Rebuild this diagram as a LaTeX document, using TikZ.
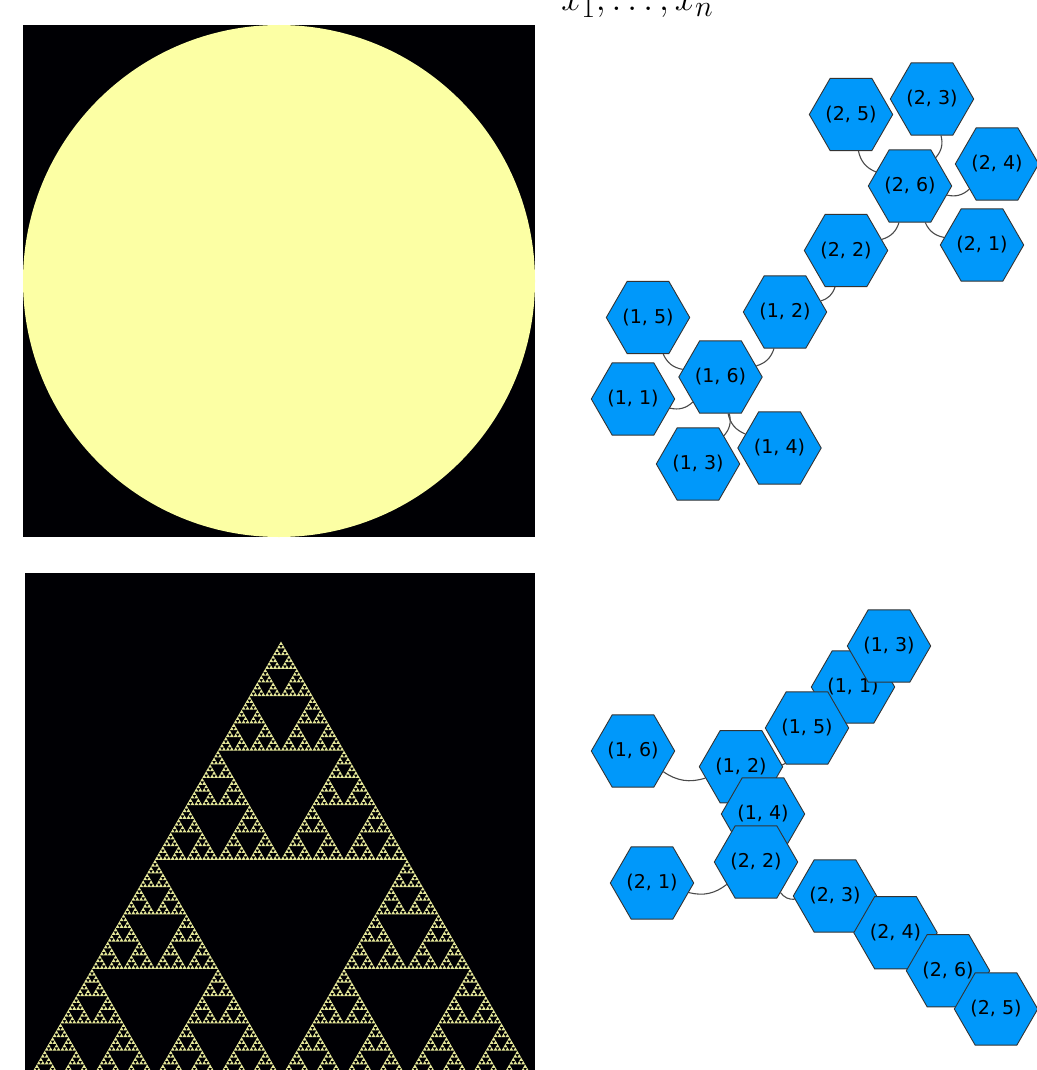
\documentclass[tikz,border=0pt]{standalone}
\usepackage{fontspec}
\newfontfamily\dejavu{DejaVu Sans}
\usetikzlibrary{shapes.geometric}
\definecolor{infblack}{HTML}{000004}
\definecolor{infyellow}{HTML}{FCFFA4}
\definecolor{sierfillc}{HTML}{E6E89A}
\definecolor{hexblue}{HTML}{0098FA}
\definecolor{hexedge}{HTML}{333333}
\definecolor{linkgray}{HTML}{4A4A4A}
\pgfdeclarelayer{paper}
\pgfdeclarelayer{edgelayer}
\pgfsetlayers{paper,edgelayer,main}
\tikzset{
  hexnode/.style={regular polygon, regular polygon sides=6, minimum size=82pt,
    inner sep=0pt, fill=hexblue, draw=hexedge, line width=0.9pt,
    font=\dejavu\fontsize{19}{22}\selectfont},
  link/.style={draw=linkgray, line width=1.1pt},
  sierfill/.style={fill=sierfillc}
}
\def\sierp#1#2#3#4{%
  \ifnum#1=0\relax
    \edef\sierX{\the\dimexpr#2+#4\relax}%
    \edef\sierXm{\the\dimexpr#2+#4/2\relax}%
    \edef\sierY{\the\dimexpr#3+#4*866/1000\relax}%
    \fill[sierfill] (#2,#3) -- (\sierX,#3) -- (\sierXm,\sierY) -- cycle;
  \else
    \begingroup
      \edef\sierH{\the\dimexpr#4/2\relax}%
      \edef\sierN{\the\numexpr#1-1\relax}%
      \edef\sierXa{\the\dimexpr#2+\sierH\relax}%
      \edef\sierXb{\the\dimexpr#2+\sierH/2\relax}%
      \edef\sierYb{\the\dimexpr#3+\sierH*866/1000\relax}%
      \edef\siernext{\noexpand\sierp{\sierN}{#2}{#3}{\sierH}\noexpand\sierp{\sierN}{\sierXa}{#3}{\sierH}\noexpand\sierp{\sierN}{\sierXb}{\sierYb}{\sierH}}%
    \expandafter\endgroup\siernext
  \fi}
\begin{document}
\begin{tikzpicture}[x=1pt,y=-1pt]
\useasboundingbox (0,0) rectangle (1036,1070);
\begin{pgfonlayer}{paper}
\fill[white] (0,0) rectangle (1036,1070);
\end{pgfonlayer}
% title fragment
\node[anchor=base west, inner sep=0pt, font=\Huge, scale=1.45] (title) at (561,11) {$x_1,\ldots,x_n$};
% top-left panel
\fill[infblack] (23,25) rectangle (535,537);
\fill[infyellow] (279,281) circle[radius=256];
% bottom-left panel
\fill[infblack] (25,573) rectangle (535,1083);
\begin{scope}
\clip (25,573) rectangle (535,1083);
\sierp{7}{29pt}{-1078pt}{504pt}
\end{scope}
% top graph
\node[hexnode] (t25) at (851,114.5) {(2, 5)};
\node[hexnode] (t23) at (932,99) {(2, 3)};
\node[hexnode] (t24) at (997,164) {(2, 4)};
\node[hexnode] (t26) at (910,186) {(2, 6)};
\node[hexnode] (t21) at (982,245) {(2, 1)};
\node[hexnode] (t22) at (846,250.5) {(2, 2)};
\node[hexnode] (t15) at (648,317.5) {(1, 5)};
\node[hexnode] (t12) at (785,312) {(1, 2)};
\node[hexnode] (t16) at (720.5,377) {(1, 6)};
\node[hexnode] (t11) at (633,399) {(1, 1)};
\node[hexnode] (t13) at (698,464) {(1, 3)};
\node[hexnode] (t14) at (779.5,448) {(1, 4)};
% bottom graph
\node[hexnode] (b16) at (633,751) {(1, 6)};
\node[hexnode] (b12) at (741,766.7) {(1, 2)};
\node[hexnode] (b11) at (853,687) {(1, 1)};
\node[hexnode] (b13) at (889,646) {(1, 3)};
\node[hexnode] (b15) at (807,728) {(1, 5)};
\node[hexnode] (b14) at (763,814) {(1, 4)};
\node[hexnode] (b21) at (652,883) {(2, 1)};
\node[hexnode] (b22) at (756,862) {(2, 2)};
\node[hexnode] (b23) at (835,896) {(2, 3)};
\node[hexnode] (b24) at (895.5,932.7) {(2, 4)};
\node[hexnode] (b26) at (948,970.7) {(2, 6)};
\node[hexnode] (b25) at (996,1009) {(2, 5)};
\begin{pgfonlayer}{edgelayer}
\draw[link] (t26) to[bend left=28] (t25);
\draw[link] (t26) to[bend right=28] (t23);
\draw[link] (t26) to[bend right=28] (t24);
\draw[link] (t26) to[bend right=28] (t21);
\draw[link] (t26) to[bend left=28] (t22);
\draw[link] (t22) to[bend left=28] (t12);
\draw[link] (t12) to[bend left=28] (t16);
\draw[link] (t16) to[bend left=28] (t15);
\draw[link] (t16) to[bend left=28] (t11);
\draw[link] (t16) to[bend left=28] (t13);
\draw[link] (t16) to[bend right=28] (t14);
\draw[link] (b16) to[bend right=26] (b12);
\draw[link] (b12) to[bend right=28] (b15);
\draw[link] (b22) to[bend left=26] (b21);
\draw[link] (b22) to[bend right=28] (b23);
\end{pgfonlayer}
\end{tikzpicture}
\end{document}
